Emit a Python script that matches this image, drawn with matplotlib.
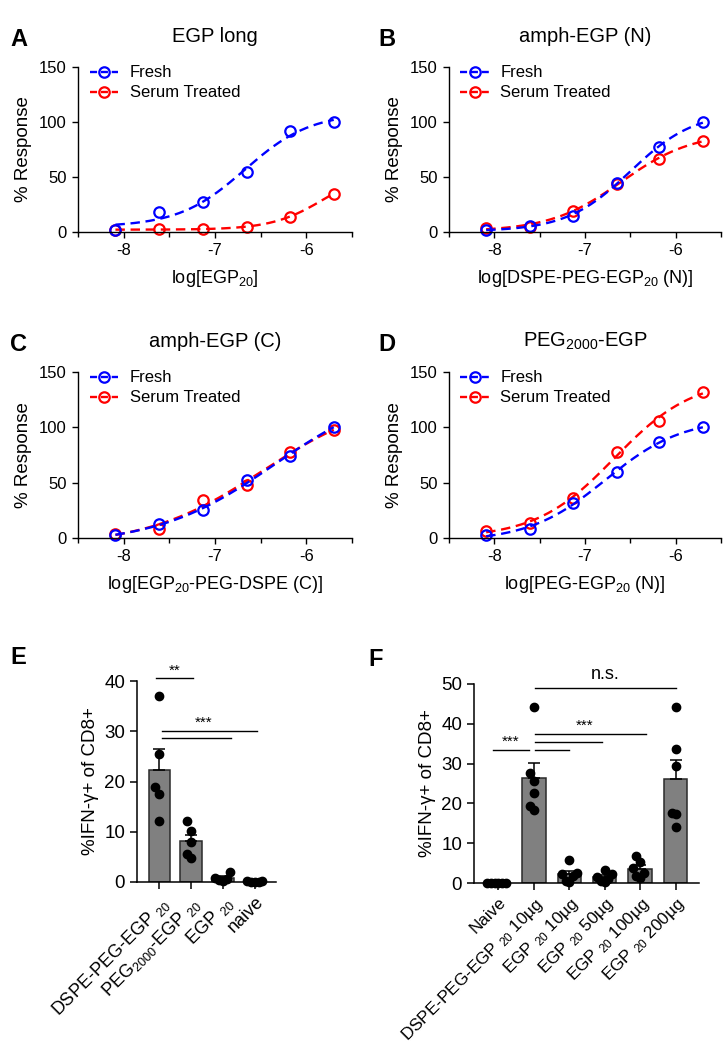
import matplotlib
matplotlib.use("Agg")
import matplotlib.pyplot as plt
import numpy as np
from matplotlib.lines import Line2D
from matplotlib.ticker import MultipleLocator

plt.rcParams['font.family'] = ['Liberation Sans', 'DejaVu Sans']
plt.rcParams['mathtext.fontset'] = 'custom'
plt.rcParams['mathtext.rm'] = 'Liberation Sans'
plt.rcParams['mathtext.it'] = 'Liberation Sans:italic'
plt.rcParams['mathtext.bf'] = 'Liberation Sans:bold'

# dose-response data (log concentration, % response)
log_conc = [-8.09, -7.61, -7.13, -6.65, -6.18, -5.70]

A_fresh = [2, 18.5, 27, 54.5, 92, 100]
A_serum = [2, 2.5, 2.5, 5, 14, 35]
B_fresh = [2, 5.5, 15, 45, 77, 100]
B_serum = [4, 5, 19.5, 43.5, 66.5, 83]
C_fresh = [3, 12.5, 25, 52, 74.5, 100.5]
C_serum = [4, 8.5, 34, 48, 78, 97.5]
D_fresh = [2.5, 8.5, 32, 60, 86.5, 100]
D_serum = [6.5, 13.5, 36, 78, 106, 132]

curve_titles = ['EGP long', 'amph-EGP (N)', 'amph-EGP (C)', 'PEG$_{2000}$-EGP']
curve_xlabels = ['log[EGP$_{20}$]', 'log[DSPE-PEG-EGP$_{20}$ (N)]',
                 'log[EGP$_{20}$-PEG-DSPE (C)]', 'log[PEG-EGP$_{20}$ (N)]']

# IFN-gamma data
E_labels = ['DSPE-PEG-EGP $_{20}$', 'PEG$_{2000}$-EGP $_{20}$', 'EGP $_{20}$', 'naive']
E_values = [[37, 25.5, 19, 17.5, 12.2],
            [12.05, 10.1, 7.9, 5.6, 4.8],
            [2.0, 0.8, 0.5, 0.4, 0.2],
            [0.1, 0.05, 0.1, 0.08, 0.05]]

F_labels = ['Naive', 'DSPE-PEG-EGP $_{20}$ 10µg', 'EGP $_{20}$ 10µg',
            'EGP $_{20}$ 50µg', 'EGP $_{20}$ 100µg', 'EGP $_{20}$ 200µg']
F_values = [[0.1, 0.1, 0.05, 0.1, 0.05, 0.1],
            [44.1, 27.6, 25.75, 22.7, 19.4, 18.4],
            [5.9, 2.5, 2.3, 1.8, 0.5, 0.3],
            [3.3, 2.2, 1.5, 1.0, 0.6, 0.3],
            [6.9, 5.2, 3.8, 2.5, 1.7, 1.25],
            [44.1, 33.6, 29.4, 17.7, 17.4, 14.0]]

W, H = 723, 1050
fig = plt.figure(figsize=(W / 100, H / 100), dpi=100)


def fig_axes(left, top, right, bottom):
    # pixel box -> figure fraction
    return fig.add_axes([left / W, 1 - bottom / H, (right - left) / W, (bottom - top) / H])


def fit_4pl(x, y):
    x = np.asarray(x, float)
    y = np.asarray(y, float)
    c = np.linspace(-10, -4, 241)[:, None, None]
    h = np.linspace(0.3, 3.0, 109)[None, :, None]
    s = 1.0 / (1.0 + 10 ** ((c - x) * h))
    sm = s.mean(-1, keepdims=True)
    ym = y.mean()
    slope = ((s - sm) * (y - ym)).sum(-1) / ((s - sm) ** 2).sum(-1)
    inter = ym - slope * sm[..., 0]
    sse = ((inter[..., None] + slope[..., None] * s - y) ** 2).sum(-1)
    i, j = np.unravel_index(np.argmin(sse), sse.shape)
    return inter[i, j], slope[i, j], c[i, 0, 0], h[0, j, 0]


def curve_panel(ax, fresh, serum, title, xlabel):
    for vals, col in [(serum, '#ff0000'), (fresh, '#0000ff')]:
        b, span, c, h = fit_4pl(log_conc, vals)
        xs = np.linspace(log_conc[0], log_conc[-1], 200)
        ys = b + span / (1 + 10 ** ((c - xs) * h))
        ax.plot(xs, ys, color=col, lw=1.7, dashes=(4, 2.4), clip_on=False)
        ax.plot(log_conc, vals, 'o', mfc='none', mec=col, ms=7.5, mew=1.6, clip_on=False)
    ax.set_xlim(-8.5, -5.5)
    ax.set_ylim(0, 150)
    ax.set_yticks([0, 50, 100, 150])
    ax.set_xticks([-8, -7, -6])
    ax.xaxis.set_minor_locator(MultipleLocator(0.5))
    ax.set_xticklabels(['-8', '-7', '-6'])
    for s in ['top', 'right']:
        ax.spines[s].set_visible(False)
    for s in ['left', 'bottom']:
        ax.spines[s].set_linewidth(1.0)
    ax.tick_params(labelsize=12, width=1.0, length=4.5)
    ax.tick_params(which='minor', width=1.0, length=3.5)
    ax.set_ylabel('% Response', fontsize=13.5, labelpad=5)
    ax.set_xlabel(xlabel, fontsize=13, labelpad=7)
    ax.set_title(title, fontsize=14.5, pad=18)
    handles = [Line2D([], [], color='#0000ff', lw=1.7, dashes=(3, 1.6), marker='o', mfc='none',
                      mec='#0000ff', ms=7.5, mew=1.6),
               Line2D([], [], color='#ff0000', lw=1.7, dashes=(3, 1.6), marker='o', mfc='none',
                      mec='#ff0000', ms=7.5, mew=1.6)]
    ax.legend(handles, ['Fresh', 'Serum Treated'], loc='upper left', frameon=False,
              bbox_to_anchor=(0.03, 1.03), fontsize=12, handlelength=1.7,
              handletextpad=0.7, labelspacing=0.3, borderaxespad=0, borderpad=0.2)


def swarm(vals, ax, diam=8.3):
    p0 = ax.transData.transform((0, 0))
    p1 = ax.transData.transform((1, 1))
    sx, sy = p1[0] - p0[0], p1[1] - p0[1]
    step = 0.45 * diam
    placed = []
    offs = np.zeros(len(vals))
    for idx in np.argsort(vals):
        y = vals[idx] * sy
        for k in [0, -1, 1, -2, 2, -3, 3, -4, 4]:
            dx = k * step
            if all(((dx - px) / (step - 1e-6)) ** 2 + ((y - py) / (1.3 * diam)) ** 2 >= 1
                   for px, py in placed):
                break
        placed.append((dx, y))
        offs[idx] = dx / sx
    return offs


def bar_panel(ax, labels, groups, ymax, sigs, lab_size):
    n = len(groups)
    pos = np.arange(n)
    means = [np.mean(g) for g in groups]
    sems = [np.std(g, ddof=1) / np.sqrt(len(g)) for g in groups]
    ax.set_xlim(-0.69, n - 1 + 0.66)
    ax.set_ylim(0, ymax)
    ax.bar(pos, means, width=0.66, color='#808080', edgecolor='#2a2a2a', linewidth=1.1, zorder=2)
    ax.errorbar(pos, means, yerr=[np.zeros(n), sems], fmt='none', ecolor='black',
                elinewidth=1.1, capsize=4.5, capthick=1.1, zorder=3)
    for k, g in enumerate(groups):
        offs = swarm(np.asarray(g, float), ax)
        ax.plot(k + offs, g, 'o', color='black', ms=6, zorder=4, clip_on=False)
    for x0, x1, y, txt, tx, ty in sigs:
        ax.plot([x0, x1], [y, y], color='black', lw=1.0, clip_on=False)
        if txt:
            ax.text(tx, ty, txt, ha='center', va='bottom', fontsize=11 if txt != 'n.s.' else 13)
    ax.set_xticks(pos)
    ax.set_xticklabels(labels, rotation=45, ha='right', rotation_mode='anchor', fontsize=lab_size)
    ax.yaxis.set_major_locator(MultipleLocator(10))
    for s in ['top', 'right']:
        ax.spines[s].set_visible(False)
    for s in ['left', 'bottom']:
        ax.spines[s].set_linewidth(1.1)
    ax.tick_params(axis='y', labelsize=13.5)
    ax.tick_params(width=1.1, length=5)
    ax.set_ylabel('%IFN-γ+ of CD8+', fontsize=13.5)


axA = fig_axes(78, 67, 352, 232)
axB = fig_axes(449, 67, 721, 232)
axC = fig_axes(78, 372, 352, 538)
axD = fig_axes(449, 372, 721, 538)
curve_panel(axA, A_fresh, A_serum, curve_titles[0], curve_xlabels[0])
curve_panel(axB, B_fresh, B_serum, curve_titles[1], curve_xlabels[1])
curve_panel(axC, C_fresh, C_serum, curve_titles[2], curve_xlabels[2])
curve_panel(axD, D_fresh, D_serum, curve_titles[3], curve_xlabels[3])

axE = fig_axes(137, 681, 276, 882)
bar_panel(axE, E_labels, E_values, 40,
          [(-0.08, 1.06, 40.5, '**', 0.5, 40.6),
           (0.08, 3.07, 30.0, '***', 1.4, 30.2),
           (0.08, 2.26, 28.7, '', 0, 0)], 13)

axF = fig_axes(474, 684, 699, 883)
bar_panel(axF, F_labels, F_values, 50,
          [(-0.16, 0.85, 33.4, '***', 0.35, 33.6),
           (1.03, 2.0, 33.4, '', 0, 0),
           (1.03, 2.92, 35.5, '', 0, 0),
           (1.03, 4.17, 37.5, '***', 2.44, 37.8),
           (1.03, 5.02, 49.0, 'n.s.', 3.0, 50.3)], 12.3)

for letter, x, y in [('A', 10, 40), ('B', 378, 40), ('C', 10, 345), ('D', 378, 345),
                     ('E', 10, 657), ('F', 368, 660)]:
    fig.text(x / W, 1 - y / H, letter, fontsize=17, fontweight='bold', va='center', ha='left')

fig.savefig('out.png', dpi=100)
